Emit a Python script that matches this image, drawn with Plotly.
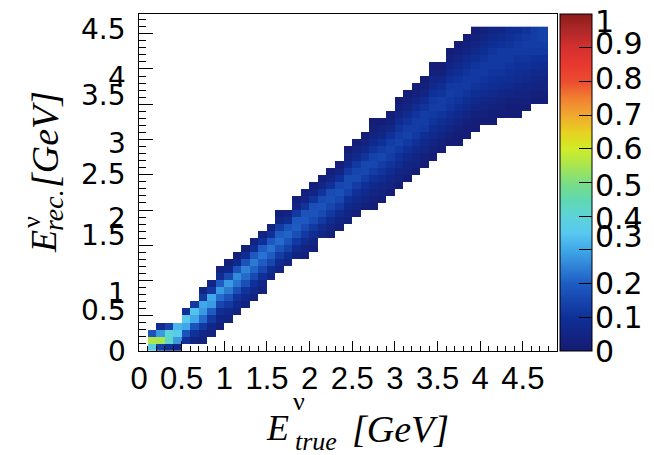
import plotly.graph_objects as go

# ---------------- data ----------------
bin_width = 0.1
n_xbins = 48          # true-energy bins (0 .. 4.8 GeV)
n_ybins = 46          # reco-energy bins (0 .. 4.6 GeV)

# first filled reco bin index for every true-energy column
col_first_bin = [None, 0, 0, 0, 0, 1, 1, 1, 2, 3, 4, 5, 6, 7, 8, 10, 11, 12, 13, 13,
                 14, 16, 16, 17, 18, 19, 20, 20, 21, 22, 23, 24, 25, 26, 27, 28, 29,
                 29, 30, 31, 32, 32, 33, 33, 33, 34, 35, 35]

# bin contents (in %) of every column, from first filled bin upward
col_contents = [
    [],
    [38, 56, 18],
    [14, 55, 28, 8],
    [10, 42, 40, 14],
    [6, 28, 36, 32],
    [10, 18, 30, 36, 10],
    [5, 10, 18, 30, 34, 12],
    [4, 6, 12, 22, 28, 30, 12, 5],
    [4, 6, 12, 20, 28, 30, 12, 5],
    [3, 5, 9, 15, 22, 28, 20, 8, 4],
    [4, 7, 12, 18, 24, 28, 16, 6, 3],
    [4, 7, 11, 17, 23, 26, 18, 7, 3],
    [4, 7, 11, 17, 22, 25, 18, 8, 3],
    [4, 7, 10, 16, 21, 24, 19, 9, 4],
    [4, 6, 10, 15, 20, 23, 20, 10, 4],
    [5, 9, 15, 20, 23, 19, 10, 4],
    [5, 8, 13, 18, 22, 20, 13, 6, 3],
    [5, 9, 14, 18, 21, 18, 9, 4],
    [4, 8, 12, 17, 20, 19, 12, 5, 3],
    [3, 5, 8, 12, 16, 19, 18, 11, 5, 3],
    [3, 5, 8, 12, 16, 18, 17, 11, 5, 3],
    [5, 8, 12, 16, 18, 16, 11, 5, 3],
    [3, 5, 8, 12, 15, 17, 16, 10, 5, 3],
    [3, 5, 8, 12, 15, 17, 15, 10, 5, 3],
    [3, 5, 7, 10, 14, 16, 16, 12, 7, 4, 2],
    [3, 5, 7, 10, 13, 16, 15, 12, 7, 4, 2],
    [3, 5, 7, 10, 13, 15, 15, 11, 7, 4, 2],
    [2, 3, 5, 7, 10, 13, 15, 14, 11, 7, 4, 3, 2],
    [2, 4, 6, 8, 11, 13, 15, 13, 10, 6, 4, 2],
    [2, 4, 6, 8, 11, 13, 14, 13, 10, 6, 3, 2],
    [2, 4, 5, 8, 10, 12, 14, 13, 11, 8, 5, 3, 2],
    [2, 4, 5, 7, 10, 12, 14, 13, 11, 8, 5, 3, 2],
    [2, 4, 5, 7, 10, 12, 13, 13, 11, 8, 5, 3, 2],
    [2, 3, 5, 7, 9, 12, 13, 13, 11, 8, 5, 3, 2],
    [2, 3, 5, 7, 9, 11, 12, 13, 12, 10, 7, 5, 3, 2],
    [2, 3, 5, 7, 9, 11, 13, 13, 11, 9, 6, 3, 2],
    [2, 3, 5, 7, 9, 11, 12, 13, 12, 10, 7, 5, 3, 2],
    [2, 2, 3, 5, 7, 9, 11, 12, 12, 11, 9, 7, 5, 3, 2],
    [2, 2, 3, 5, 7, 9, 11, 12, 12, 11, 9, 7, 5, 3, 2],
    [2, 2, 3, 5, 7, 9, 11, 12, 12, 11, 9, 7, 5, 3, 2],
    [2, 3, 4, 6, 8, 10, 11, 12, 12, 11, 9, 7, 5, 3],
    [2, 2, 3, 5, 7, 9, 10, 11, 12, 12, 11, 9, 7, 5],
    [2, 3, 4, 6, 8, 9, 11, 12, 12, 12, 10, 8, 6],
    [2, 2, 3, 5, 7, 9, 10, 11, 12, 12, 11, 10, 8],
    [2, 2, 3, 4, 6, 8, 9, 10, 11, 12, 12, 11, 9],
    [2, 3, 4, 5, 7, 8, 10, 11, 12, 13, 12, 11],
    [2, 3, 4, 6, 7, 9, 10, 12, 13, 13, 13],
    [2, 3, 4, 5, 7, 8, 10, 12, 13, 14, 14],
]

x_tick_vals = [0, 0.5, 1, 1.5, 2, 2.5, 3, 3.5, 4, 4.5]
x_tick_text = ["0", "0.5", "1", "1.5", "2", "2.5", "3", "3.5", "4", "4.5"]
y_tick_vals = [0, 0.5, 1, 1.5, 2, 2.5, 3, 3.5, 4, 4.5]
y_tick_text = ["0", "0.5", "1", "1.5", "2", "2.5", "3", "3.5", "4", "4.5"]
cb_tick_vals = [0, 0.1, 0.2, 0.3, 0.4, 0.5, 0.6, 0.7, 0.8, 0.9, 1]
cb_tick_text = ["0", "0.1", "0.2", "0.3", "0.4", "0.5", "0.6", "0.7", "0.8", "0.9", "1"]

# ---------------- styling ----------------
y_label_shift = [0, 5, -13, 10, -8, 0, -4, 9, -9, 4]        # px, as placed in the original
cb_label_shift = [0, 0, 0, 13, -2, -3, 0, 1, 3, 4, -7]      # px, as placed in the original

colorscale = [
    [0.00, "rgb(22,26,112)"],
    [0.10, "rgb(14,48,152)"],
    [0.20, "rgb(30,92,196)"],
    [0.30, "rgb(64,168,232)"],
    [0.35, "rgb(88,200,240)"],
    [0.40, "rgb(92,212,216)"],
    [0.45, "rgb(96,216,176)"],
    [0.50, "rgb(124,222,130)"],
    [0.55, "rgb(168,230,80)"],
    [0.60, "rgb(208,236,40)"],
    [0.65, "rgb(232,208,32)"],
    [0.70, "rgb(240,168,48)"],
    [0.75, "rgb(240,128,48)"],
    [0.80, "rgb(236,76,48)"],
    [0.85, "rgb(232,56,48)"],
    [0.90, "rgb(212,48,48)"],
    [0.95, "rgb(176,40,40)"],
    [1.00, "rgb(140,28,28)"],
]

x_range = [0, 4.9]
y_range = [0, 4.78]
z_min, z_max = 0, 1
W, H = 654, 455
L, R, T, B = 139, 97, 14, 104
PW, PH = W - L - R, H - T - B

# ---------------- build histogram ----------------
z = [[None] * n_xbins for _ in range(n_ybins)]
for i, (first, vals) in enumerate(zip(col_first_bin, col_contents)):
    for k, v in enumerate(vals):
        z[first + k][i] = v / 100.0

x_centers = [(i + 0.5) * bin_width for i in range(n_xbins)]
y_centers = [(j + 0.5) * bin_width for j in range(n_ybins)]

fig = go.Figure()
fig.add_trace(go.Heatmap(
    x=x_centers, y=y_centers, z=z,
    zmin=z_min, zmax=z_max, colorscale=colorscale, hoverongaps=False,
    colorbar=dict(
        x=(W - R + 3 - L) / PW, xanchor="left", xpad=0,
        y=0.5, yanchor="middle", ypad=0, len=1, lenmode="fraction",
        thickness=32, outlinewidth=1, outlinecolor="black",
        ticks="inside", ticklen=13, tickwidth=1, tickcolor="black",
        tickvals=cb_tick_vals, showticklabels=False,
    ),
))

fig.update_xaxes(
    range=x_range, showgrid=False, zeroline=False,
    showline=True, linecolor="black", linewidth=1, mirror=True,
    ticks="inside", ticklen=10, tickwidth=1, tickcolor="black",
    tickvals=x_tick_vals, ticktext=x_tick_text,
    tickfont=dict(family="Liberation Sans", size=31, color="black"),
    minor=dict(ticks="inside", ticklen=5, dtick=0.1, tick0=0, tickcolor="black"),
)
fig.update_yaxes(
    range=y_range, showgrid=False, zeroline=False,
    showline=True, linecolor="black", linewidth=1, mirror=True,
    ticks="inside", ticklen=14, tickwidth=1, tickcolor="black",
    tickvals=y_tick_vals, showticklabels=False,
    minor=dict(ticks="inside", ticklen=7, dtick=0.1, tick0=0, tickcolor="black"),
)

annotations = []
# y-axis tick labels
for v, t, s in zip(y_tick_vals, y_tick_text, y_label_shift):
    annotations.append(dict(
        x=0, xref="paper", xanchor="right", xshift=-11,
        y=v, yref="y", yanchor="middle", yshift=s,
        text=t, showarrow=False,
        font=dict(family="DejaVu Sans", size=28, color="black"),
    ))
# colour-bar tick labels
for v, t, s in zip(cb_tick_vals, cb_tick_text, cb_label_shift):
    annotations.append(dict(
        x=(W - R + 36 - L) / PW, xref="paper", xanchor="left",
        y=(v - z_min) / (z_max - z_min), yref="paper", yanchor="middle", yshift=s,
        text=t, showarrow=False,
        font=dict(family="DejaVu Sans", size=30, color="black"),
    ))


def px(xp, yp):
    return (xp - L) / PW, (H - B - yp) / PH


serif = "Liberation Serif"


def add_text(text, xp, yp, size, angle=0):
    xx, yy = px(xp, yp)
    annotations.append(dict(
        x=xx, y=yy, xref="paper", yref="paper", xanchor="center", yanchor="middle",
        text=text, showarrow=False, textangle=angle,
        font=dict(family=serif, size=size, color="black"),
    ))


# x-axis title: E^nu_true [GeV]
add_text("<i>E</i>", 277, 428, 36)
add_text("ν", 299, 401, 26)
add_text("<i>true</i>", 316, 442, 26)
add_text("<i>[GeV]</i>", 400, 429, 38)
# y-axis title: E^nu_rec. [GeV]
add_text("<i>E</i>", 44, 242, 36, -90)
add_text("ν", 31, 222, 26, -90)
add_text("<i>rec.</i>", 53, 210, 28, -90)
add_text("<i>[GeV]</i>", 45, 140, 38, -90)

fig.update_layout(
    width=W, height=H,
    margin=dict(l=L, r=R, t=T, b=B, autoexpand=False),
    paper_bgcolor="white", plot_bgcolor="white",
    font=dict(family="Liberation Sans", color="black"),
    annotations=annotations,
    showlegend=False,
)

fig.write_html("out.html")
